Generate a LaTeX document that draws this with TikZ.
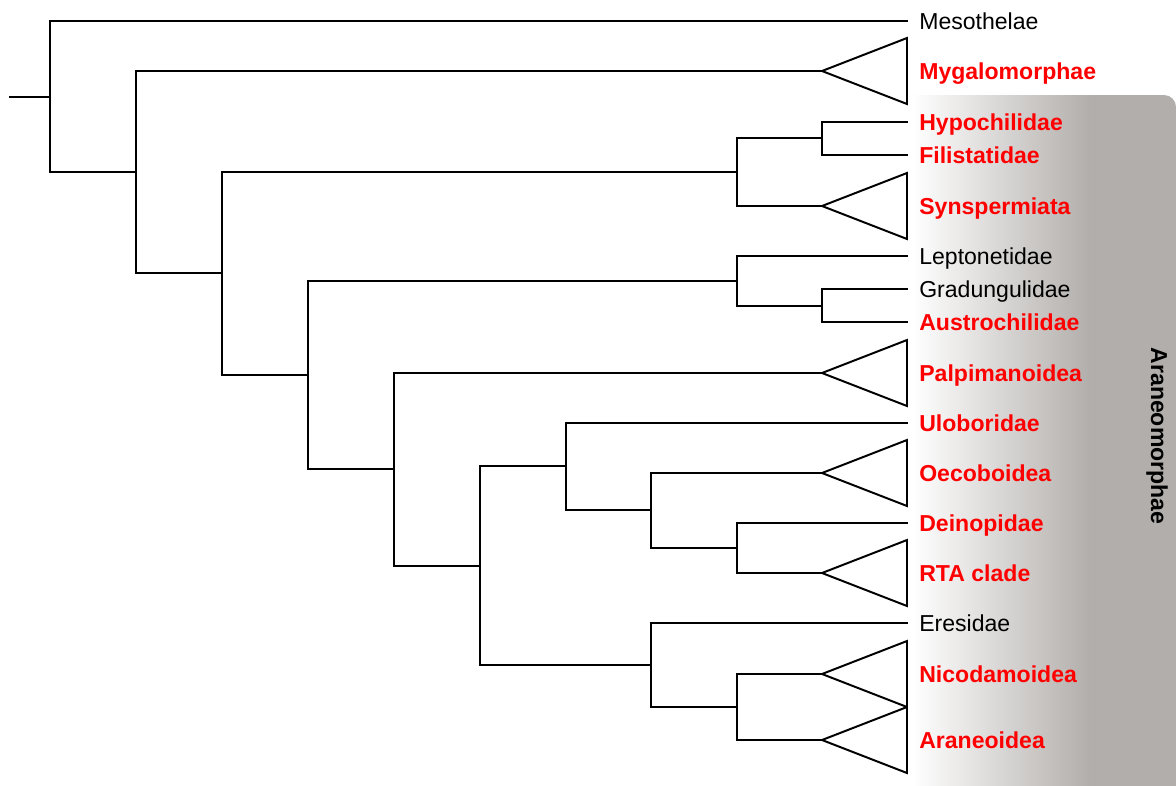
\documentclass[tikz,border=0pt]{standalone}
\usepackage{fontspec}
\setmainfont{Liberation Sans}
\usetikzlibrary{calc}

\definecolor{araneogray}{RGB}{178,174,171}

\begin{document}
\begin{tikzpicture}[
     x=0.025cm, y=-0.025cm,
     branch/.style={line width=1.4pt,line cap=rect},
     taxon/.style={anchor=west,inner xsep=0.3cm,inner ysep=0pt,
       text height=11.74pt,text depth=0pt,font=\fontsize{16.4}{19.7}\selectfont},
     core/.style={taxon,text=red,font=\fontsize{16.4}{19.7}\selectfont\bfseries}
   ]
   \useasboundingbox (0,0) rectangle (1176,785);
   % Araneomorphae band.
   \fill[araneogray,rounded corners=0.3cm] (912,95) rectangle (1176,830);
   \shade[left color=white,right color=araneogray] (912,95) rectangle (1090,830);
   \node[font=\fontsize{16.4}{19.7}\selectfont\bfseries,rotate=-90] (band) at (1157,436) {Araneomorphae};
   % Tips.
   \node[taxon] (meso) at (907,21) {Mesothelae};
   \node[core] (myg) at (907,71) {Mygalomorphae};
   \node[core] (hypo) at (907,122) {Hypochilidae};
   \node[core] (fili) at (907,155) {Filistatidae};
   \node[core] (syn) at (907,206) {Synspermiata};
   \node[taxon] (lepto) at (907,256) {Leptonetidae};
   \node[taxon] (grad) at (907,289) {Gradungulidae};
   \node[core] (austro) at (907,322) {Austrochilidae};
   \node[core] (palpi) at (907,373) {Palpimanoidea};
   \node[core] (ulob) at (907,423) {Uloboridae};
   \node[core] (oeco) at (907,473) {Oecoboidea};
   \node[core] (deino) at (907,523) {Deinopidae};
   \node[core] (rta) at (907,573) {RTA clade};
   \node[taxon] (eres) at (907,623) {Eresidae};
   \node[core] (nico) at (907,674) {Nicodamoidea};
   \node[core] (aranei) at (907,740) {Araneoidea};
   % Collapsed clades.
   \foreach \c/\y in {myg/71,syn/206,palpi/373,oeco/473,rta/573,nico/674,aranei/740}{
     \coordinate (\c-apex) at (822,\y);
     \draw[branch,line join=miter] (\c-apex) -- ++(85,-33) -- ++(0,66) -- cycle;
   }
   % Inner nodes.
   \coordinate (root) at (10,97);
   \coordinate (n0) at (50,97);
   \coordinate (n1) at (136,172);
   \coordinate (n2) at (222,273);
   \coordinate (n3) at (737,172);
   \coordinate (hf) at (822,138);
   \coordinate (n4) at (308,375);
   \coordinate (n5) at (737,281);
   \coordinate (ga) at (822,306);
   \coordinate (n6) at (394,469);
   \coordinate (n7) at (480,566);
   \coordinate (n8) at (566,466);
   \coordinate (n9) at (651,510);
   \coordinate (n10) at (737,548);
   \coordinate (n11) at (651,665);
   \coordinate (n12) at (737,707);
   % Branches.
   \draw[branch] (root) -- (n0);
   \draw[branch] (meso.west) -| (n0) |- (n1);
   \draw[branch] (myg-apex) -| (n1) |- (n2);
   \draw[branch] (n3) -| (n2) |- (n4);
   \draw[branch] (hf) -| (n3) |- (syn-apex);
   \draw[branch] (hypo.west) -| (hf) |- (fili.west);
   \draw[branch] (n5) -| (n4) |- (n6);
   \draw[branch] (lepto.west) -| (n5) |- (ga);
   \draw[branch] (grad.west) -| (ga) |- (austro.west);
   \draw[branch] (palpi-apex) -| (n6) |- (n7);
   \draw[branch] (n8) -| (n7) |- (n11);
   \draw[branch] (ulob.west) -| (n8) |- (n9);
   \draw[branch] (oeco-apex) -| (n9) |- (n10);
   \draw[branch] (deino.west) -| (n10) |- (rta-apex);
   \draw[branch] (eres.west) -| (n11) |- (n12);
   \draw[branch] (nico-apex) -| (n12) |- (aranei-apex);
 \end{tikzpicture}
\end{document}
